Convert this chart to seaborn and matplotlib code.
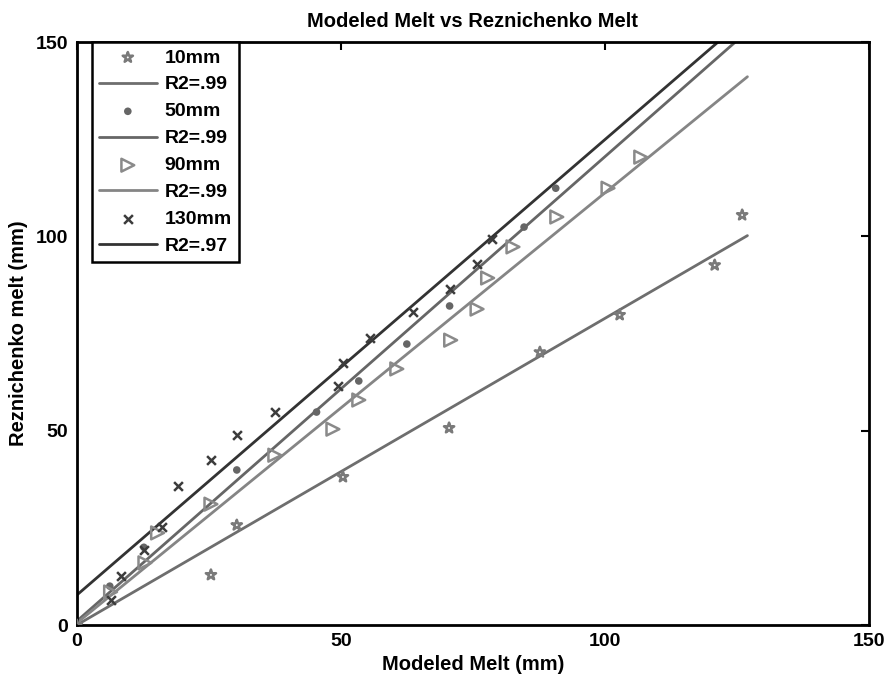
import numpy as np
import pandas as pd
import matplotlib
matplotlib.use("Agg")
import matplotlib.pyplot as plt
import seaborn as sns

# ---- data ----
x10 = [0, 25.4, 30.3, 50.4, 70.5, 87.7, 102.8, 120.8, 126.0]
y10 = [0, 12.9, 25.7, 38.1, 50.7, 70.2, 79.8, 92.6, 105.5]

x50 = [6.25, 12.7, 30.3, 45.4, 53.4, 62.5, 70.6, 84.7, 90.7]
y50 = [10.0, 20.0, 39.9, 54.8, 62.8, 72.3, 82.1, 102.4, 112.4]

x90 = [6.4, 12.9, 15.3, 25.4, 37.5, 48.5, 53.4, 60.6, 70.8, 75.8, 77.8, 82.6, 90.9, 100.6, 106.8]
y90 = [8.5, 16.0, 23.7, 31.1, 43.7, 50.4, 57.9, 65.9, 73.3, 81.3, 89.3, 97.3, 105.0, 112.4, 120.4]

x130 = [6.4, 8.3, 12.7, 16.1, 19.1, 25.4, 30.3, 37.5, 49.4, 50.4, 55.5, 63.6, 70.6, 75.8, 78.6]
y130 = [6.4, 12.6, 19.3, 25.2, 35.8, 42.4, 48.9, 54.8, 61.5, 67.4, 73.8, 80.5, 86.4, 92.9, 99.3]

series_names = ["10mm", "50mm", "90mm", "130mm"]
fit_labels = ["R2=.99", "R2=.99", "R2=.99", "R2=.97"]
fit_slopes = [0.789, 1.195, 1.107, 1.172]
fit_intercepts = [0.0, 1.0, 0.5, 7.7]
fit_xrange = [0, 127]

ticks = [0, 50, 100, 150]

# ---- style ----
sns.set_theme(style="white")
plt.rcParams['font.family'] = ['Liberation Sans', 'DejaVu Sans']
plt.rcParams['font.weight'] = 'bold'
plt.rcParams['text.color'] = 'black'
plt.rcParams['axes.labelcolor'] = 'black'

fig = plt.figure(figsize=(8.93, 6.79), dpi=100)
ax = fig.add_axes([0.086, 0.0795, 0.887, 0.8585])

marker_colors = ["#7a7a7a", "#666666", "#8a8a8a", "#3c3c3c"]
line_colors = ["#6e6e6e", "#666666", "#858585", "#333333"]
markers = ["*", "o", ">", "x"]
msizes = [60, 30, 85, 40]

xs = [x10, x50, x90, x130]
ys = [y10, y50, y90, y130]

for i in range(4):
    df = pd.DataFrame({"x": xs[i], "y": ys[i]})
    if markers[i] in ("*", ">"):
        sns.scatterplot(data=df, x="x", y="y", ax=ax, marker=markers[i], s=msizes[i],
                        facecolor="none", edgecolor=marker_colors[i], linewidth=1.8,
                        label=series_names[i], zorder=3)
    elif markers[i] == "x":
        sns.scatterplot(data=df, x="x", y="y", ax=ax, marker="x", s=msizes[i],
                        color=marker_colors[i], linewidth=1.8,
                        label=series_names[i], zorder=3)
    else:
        sns.scatterplot(data=df, x="x", y="y", ax=ax, marker="o", s=msizes[i],
                        color=marker_colors[i], edgecolor="none",
                        label=series_names[i], zorder=3)
    fx = np.array(fit_xrange, dtype=float)
    fdf = pd.DataFrame({"x": fx, "y": fit_slopes[i] * fx + fit_intercepts[i]})
    sns.lineplot(data=fdf, x="x", y="y", ax=ax, color=line_colors[i], linewidth=2.0,
                 label=fit_labels[i], zorder=2)

ax.set_xlim(0, 150)
ax.set_ylim(0, 150)
ax.set_xticks(ticks)
ax.set_yticks(ticks)
ax.tick_params(direction="in", length=6, width=1.5, top=True, right=True,
               labelsize=14, colors="black", pad=6)
for lab in ax.get_xticklabels() + ax.get_yticklabels():
    lab.set_fontweight("bold")
for sp in ax.spines.values():
    sp.set_visible(True)
    sp.set_color("black")
    sp.set_linewidth(2.0)

ax.set_title("Modeled Melt vs Reznichenko Melt", fontsize=14.5, fontweight="bold", pad=11,
             color="black")
ax.set_xlabel("Modeled Melt (mm)", fontsize=14.5, fontweight="bold", labelpad=3)
ax.set_ylabel("Reznichenko melt (mm)", fontsize=14.5, fontweight="bold", labelpad=6)

leg = ax.legend(loc="upper left", bbox_to_anchor=(0.019, 1.0), borderaxespad=0,
                frameon=True, fancybox=False,
                edgecolor="black", framealpha=1, fontsize=14, handlelength=3.0,
                borderpad=0.35, labelspacing=0.48, handletextpad=0.4)
leg.get_frame().set_linewidth(1.8)
for t in leg.get_texts():
    t.set_fontweight("bold")
    t.set_color("black")

fig.savefig("out.png", dpi=100, facecolor="white")
